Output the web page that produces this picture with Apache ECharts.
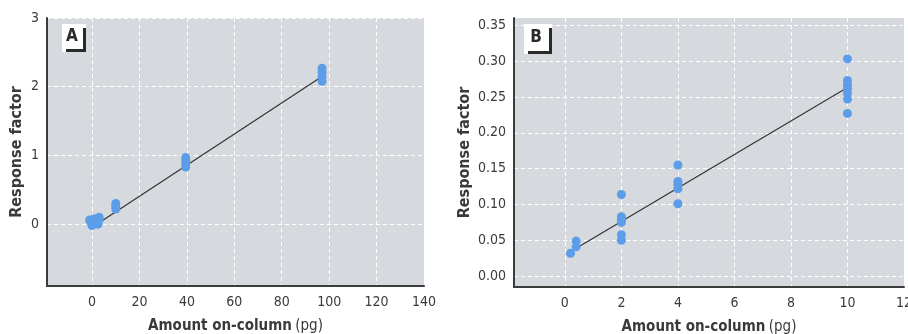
<!DOCTYPE html>
<html><head><meta charset="utf-8">
<script src="https://cdn.jsdelivr.net/npm/echarts@6/dist/echarts.min.js"></script>
<style>html,body{margin:0;padding:0;background:#fff}#c{width:908px;height:334px}</style>
</head><body><div id="c"></div>
<script>
// Panel A data
const aAmount   = [-1, -0.5, 0, 0.5, 1, 1.5, 2, 2.5, 3, 3, 10, 10, 10, 39.5, 39.5, 39.5, 39.5, 97, 97, 97, 97];
const aResponse = [0.06, 0.03, -0.02, 0.07, 0.02, 0.08, 0.05, 0.0, 0.1, 0.06, 0.30, 0.26, 0.22, 0.97, 0.93, 0.88, 0.83, 2.27, 2.21, 2.15, 2.08];
const aFitX = [2, 97];
const aFitY = [0.0, 2.15];
const aXTicks = [0, 20, 40, 60, 80, 100, 120, 140];
const aYTicks = [0, 1, 2, 3];
// Panel B data
const bAmount   = [0.2, 0.4, 0.4, 2, 2, 2, 2, 2, 2, 4, 4, 4, 4, 4, 10, 10, 10, 10, 10, 10, 10];
const bResponse = [0.032, 0.049, 0.041, 0.114, 0.083, 0.078, 0.075, 0.058, 0.050, 0.155, 0.132, 0.128, 0.122, 0.101, 0.303, 0.273, 0.267, 0.261, 0.255, 0.247, 0.227];
const bFitX = [0.4, 10];
const bFitY = [0.039, 0.263];
const bXTicks = [0, 2, 4, 6, 8, 10, 12];
const bYTicks = [0.00, 0.05, 0.10, 0.15, 0.20, 0.25, 0.30, 0.35];

const FONT = "'Liberation Sans Narrow','DejaVu Sans Condensed','Roboto',sans-serif";
const TXT = '#3a3a3a';
const zip = (xs, ys) => xs.map((x, i) => [x, ys[i]]);

function xAxis(idx, min, max, ticks, fmt) {
  return {
    type: 'value', gridIndex: idx, min, max,
    axisLine: { onZero: false, lineStyle: { color: '#3c3c3c', width: 2 } },
    axisTick: { show: false, customValues: ticks },
    axisLabel: { color: TXT, fontFamily: FONT, fontSize: 14, margin: 9, customValues: ticks,
      formatter: v => fmt(v), showMinLabel: true, showMaxLabel: true },
    splitLine: { show: true, lineStyle: { color: '#ffffff', type: [4, 3], width: 1 } },
    name: '{b|Amount on-column} {n|(pg)}', nameLocation: 'middle', nameGap: 33,
    nameTextStyle: { rich: {
      b: { fontFamily: FONT, fontWeight: 'bold', fontSize: 15, color: TXT },
      n: { fontFamily: FONT, fontSize: 15, color: TXT } } }
  };
}
function yAxis(idx, min, max, ticks, fmt, gap) {
  return {
    type: 'value', gridIndex: idx, min, max,
    axisLine: { show: true, onZero: false, lineStyle: { color: '#3c3c3c', width: 2 } },
    axisTick: { show: false, customValues: ticks },
    axisLabel: { color: TXT, fontFamily: FONT, fontSize: 14, margin: 8, customValues: ticks,
      formatter: v => fmt(v), showMinLabel: true, showMaxLabel: true },
    splitLine: { show: true, lineStyle: { color: '#ffffff', type: [4, 3], width: 1 } },
    name: 'Response factor', nameLocation: 'middle', nameGap: gap, nameRotate: 90,
    nameTextStyle: { fontFamily: FONT, fontWeight: 'bold', fontSize: 16, color: TXT }
  };
}

const chart = echarts.init(document.getElementById('c'), null, { renderer: 'canvas' });
const dotColor = '#5b9de8';
chart.setOption({
  animation: false,
  backgroundColor: '#ffffff',
  grid: [
    { left: 47, top: 18, width: 377, height: 268, show: true, backgroundColor: '#d6dade', borderWidth: 0, outerBoundsMode: 'none' },
    { left: 514, top: 18, width: 390, height: 269, show: true, backgroundColor: '#d6dade', borderWidth: 0, outerBoundsMode: 'none' }
  ],
  xAxis: [
    xAxis(0, -19, 140, aXTicks, v => String(v)),
    xAxis(1, -1.8, 12, bXTicks, v => String(v))
  ],
  yAxis: [
    yAxis(0, -0.9, 3, aYTicks, v => String(v), 22),
    yAxis(1, -0.015, 0.36, bYTicks, v => Number(v).toFixed(2), 41)
  ],
  series: [
    { type: 'line', xAxisIndex: 0, yAxisIndex: 0, data: zip(aFitX, aFitY), symbol: 'none',
      lineStyle: { color: '#333', width: 1.2 }, z: 2 },
    { type: 'scatter', xAxisIndex: 0, yAxisIndex: 0, data: zip(aAmount, aResponse),
      symbolSize: 9, itemStyle: { color: dotColor, opacity: 1 }, z: 3 },
    { type: 'line', xAxisIndex: 1, yAxisIndex: 1, data: zip(bFitX, bFitY), symbol: 'none',
      lineStyle: { color: '#333', width: 1.2 }, z: 2 },
    { type: 'scatter', xAxisIndex: 1, yAxisIndex: 1, data: zip(bAmount, bResponse),
      symbolSize: 9, itemStyle: { color: dotColor, opacity: 1 }, z: 3 }
  ],
  graphic: [
    { type: 'group', left: 62, top: 24, children: [
      { type: 'rect', shape: { x: 0, y: 0, width: 24, height: 28 }, style: { fill: '#ffffff' } },
      { type: 'rect', shape: { x: 21, y: 4, width: 3, height: 24 }, style: { fill: '#2a2a2a' } },
      { type: 'rect', shape: { x: 4, y: 25, width: 20, height: 3 }, style: { fill: '#2a2a2a' } },
      { type: 'text', style: { x: 10, y: 13, text: 'A', font: "bold 17px " + FONT, fill: '#2a2a2a', align: 'center', verticalAlign: 'middle' } }
    ]},
    { type: 'group', left: 524, top: 24, children: [
      { type: 'rect', shape: { x: 0, y: 0, width: 28, height: 30 }, style: { fill: '#ffffff' } },
      { type: 'rect', shape: { x: 25, y: 4, width: 3, height: 26 }, style: { fill: '#2a2a2a' } },
      { type: 'rect', shape: { x: 4, y: 27, width: 24, height: 3 }, style: { fill: '#2a2a2a' } },
      { type: 'text', style: { x: 12, y: 14, text: 'B', font: "bold 17px " + FONT, fill: '#2a2a2a', align: 'center', verticalAlign: 'middle' } }
    ]}
  ]
});
</script></body></html>
